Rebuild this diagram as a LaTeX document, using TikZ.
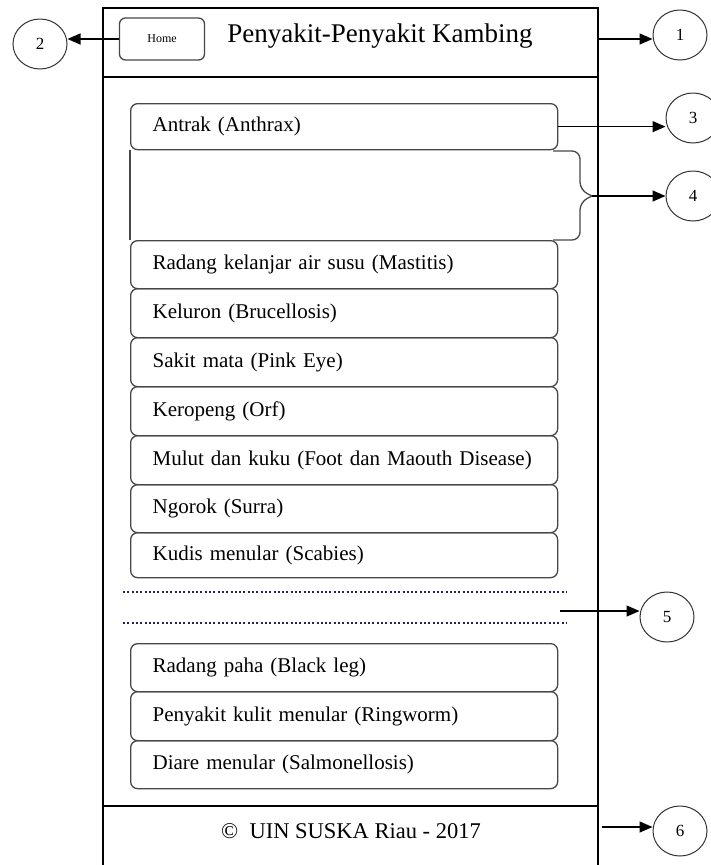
\documentclass[tikz,border=0pt]{standalone}
\usepackage{fontspec}
\setmainfont{Liberation Serif}
\usetikzlibrary{arrows.meta,shapes.geometric}
\definecolor{rulenavy}{RGB}{35,35,90}
\begin{document}
\begin{tikzpicture}[x=1pt,y=-1pt,
  frameline/.style={line width=1.2pt,black},
  itembox/.style={draw=black!72,line width=1.3pt,rounded corners=7pt,anchor=north west,
    minimum width=427pt,text width=383pt,inner xsep=22pt,inner ysep=0pt,align=left,
    font=\fontsize{21}{24}\selectfont},
  homebox/.style={draw=black!72,line width=1.3pt,rounded corners=6pt,minimum width=85pt,
    minimum height=42pt,inner sep=0pt,font=\fontsize{12}{14}\selectfont},
  callout/.style={draw=black!80,line width=1pt,ellipse,minimum width=54pt,minimum height=50pt,
    inner sep=0pt,font=\fontsize{17}{20}\selectfont},
  pointer/.style={line width=1.4pt,-{Triangle[length=13pt,width=11pt]}},
  bracket/.style={draw=black!72,line width=1.3pt,rounded corners=8pt},
  dotrule/.style={line width=2pt,dash pattern=on 2pt off 2.3pt,rulenavy}
]
\useasboundingbox (0,0) rectangle (710,865);

% page frame with header and footer bands
\draw[frameline] (103,865) -- (103,8) -- (598,8) -- (598,865);
\draw[frameline] (103,77) -- (598,77);
\draw[frameline] (103,806) -- (598,806);

% header
\node[homebox] (home) at (162,39) {Home};
\node[font=\fontsize{27}{31}\selectfont,anchor=base] (title) at (380,42) {Penyakit-Penyakit Kambing};

% list of diseases
\node[itembox,minimum height=46pt] (an) at (130,103) {Antrak (Anthrax)};
\node[itembox,minimum height=48pt] (i1) at (130,240) {Radang kelanjar air susu (Mastitis)};
\node[itembox,minimum height=49pt] (i2) at (130,288) {Keluron (Brucellosis)};
\node[itembox,minimum height=49pt] (i3) at (130,337) {Sakit mata (Pink Eye)};
\node[itembox,minimum height=49pt] (i4) at (130,386) {Keropeng (Orf)};
\node[itembox,minimum height=49pt] (i5) at (130,435) {Mulut dan kuku (Foot dan Maouth Disease)};
\node[itembox,minimum height=48pt] (i6) at (130,484) {Ngorok (Surra)};
\node[itembox,minimum height=45pt] (i7) at (130,532) {Kudis menular (Scabies)};
\node[itembox,minimum height=48pt] (j1) at (130,643) {Radang paha (Black leg)};
\node[itembox,minimum height=49pt] (j2) at (130,691) {Penyakit kulit menular (Ringworm)};
\node[itembox,minimum height=48pt] (j3) at (130,740) {Diare menular (Salmonellosis)};

% open panel under the first item, closed by a bracket on the right
\draw[draw=black!72,line width=1.3pt] (an.south west) -- (i1.north west);
\coordinate (tip) at (592,196);
\draw[bracket] (553,151) -- (580,151) -- (580,190) -- (tip);
\draw[bracket] (tip) -- (580,202) -- (580,240) -- (553,240);

% dotted separators
\draw[dotrule] (123,592) -- (566,592);
\draw[dotrule] (123,623) -- (566,623);

% footer
\node[font=\fontsize{22.5}{26}\selectfont,anchor=base] (copy) at (351,838) {©\ \ UIN SUSKA Riau - 2017};

% numbered callouts
\node[callout] (c1) at (680,35) {1};
\node[callout] (c2) at (40,44) {2};
\node[callout] (c3) at (693,118) {3};
\node[callout] (c4) at (693,196) {4};
\node[callout] (c5) at (667,617) {5};
\node[callout] (c6) at (680,831) {6};

% pointers
\coordinate (hdr) at (598,39);
\coordinate (gap) at (560,611);
\coordinate (ftr) at (602,827);
\draw[pointer] (hdr) -- (hdr -| c1.west);
\draw[pointer] (home.west) -- (home.west -| c2.east);
\draw[pointer] (an.east) -- (an.east -| c3.west);
\draw[pointer] (tip) -- (c4.west);
\draw[pointer] (gap) -- (gap -| c5.west);
\draw[pointer] (ftr) -- (ftr -| c6.west);
\end{tikzpicture}
\end{document}
